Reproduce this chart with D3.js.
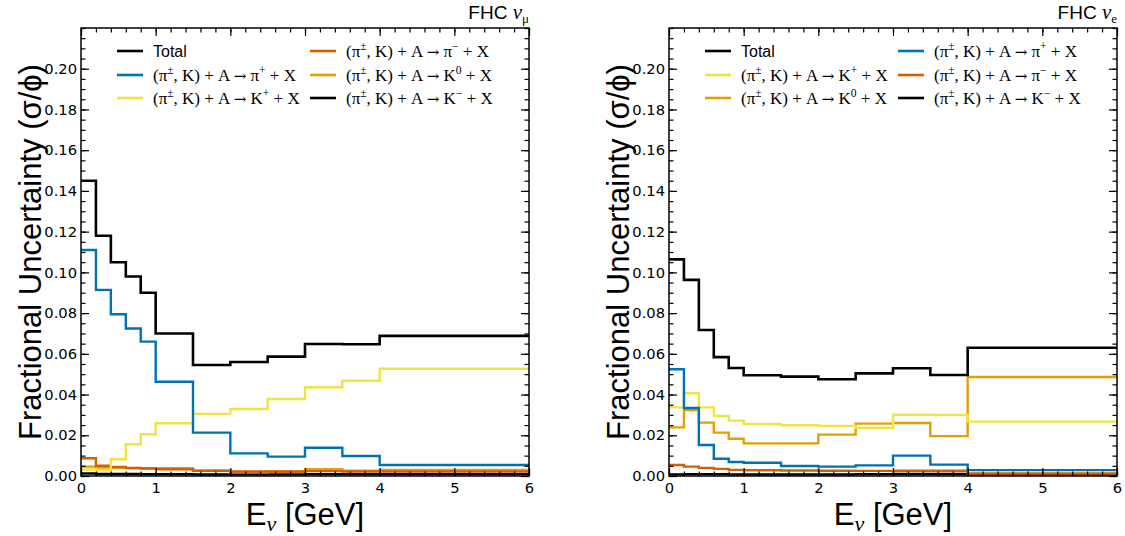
<!DOCTYPE html>
<html>
<head>
<meta charset="utf-8">
<script src="https://cdn.jsdelivr.net/npm/d3@7"></script>
<style>
  html, body { margin: 0; padding: 0; background: #fff; }
  svg { display: block; }
</style>
</head>
<body>
<svg id="chart" width="1125" height="536"></svg>
<script>
// Neutrino energy bin edges [GeV]
const binEdges = [0, 0.2, 0.4, 0.6, 0.8, 1.0, 1.5, 2.0, 2.5, 3.0, 3.5, 4.0, 6.0];

// FHC nu_mu fractional uncertainties per bin
const numuTotal   = [0.145, 0.118, 0.105, 0.098, 0.090, 0.070, 0.0545, 0.056, 0.0586, 0.0648, 0.0647, 0.0688];
const numuPiPlus  = [0.111, 0.0914, 0.0794, 0.0724, 0.066, 0.0463, 0.0213, 0.0111, 0.0095, 0.0139, 0.0098, 0.0054];
const numuKPlus   = [0.0032, 0.0028, 0.0082, 0.0156, 0.0205, 0.0259, 0.0305, 0.0329, 0.0378, 0.0436, 0.0468, 0.0527];
const numuPiMinus = [0.0087, 0.0050, 0.0045, 0.0040, 0.0037, 0.0033, 0.0026, 0.0022, 0.0022, 0.0024, 0.0022, 0.0022];
const numuK0      = [0.0046, 0.0042, 0.0040, 0.0038, 0.0038, 0.0038, 0.0026, 0.0018, 0.0021, 0.0034, 0.0026, 0.0030];
const numuKMinus  = [0.0012, 0.0010, 0.0010, 0.0010, 0.0009, 0.0009, 0.0008, 0.0008, 0.0008, 0.0009, 0.0009, 0.0009];

// FHC nu_e fractional uncertainties per bin
const nueTotal   = [0.1064, 0.0963, 0.0717, 0.0584, 0.053, 0.0495, 0.0488, 0.0475, 0.0504, 0.0529, 0.0496, 0.063];
const nuePiPlus  = [0.0524, 0.0334, 0.0152, 0.0085, 0.0069, 0.0065, 0.0049, 0.0046, 0.0052, 0.0100, 0.0056, 0.0029];
const nueKPlus   = [0.0337, 0.0406, 0.0337, 0.0295, 0.0272, 0.0255, 0.0249, 0.0246, 0.0236, 0.0301, 0.0300, 0.0267];
const nuePiMinus = [0.0054, 0.0046, 0.0040, 0.0035, 0.0030, 0.0028, 0.0027, 0.0026, 0.0025, 0.0026, 0.0026, 0.0012];
const nueK0      = [0.0239, 0.0324, 0.0262, 0.0213, 0.0183, 0.0160, 0.0160, 0.0203, 0.0257, 0.0260, 0.0196, 0.0486];
const nueKMinus  = [0.0008, 0.0009, 0.0009, 0.0009, 0.0008, 0.0008, 0.0008, 0.0008, 0.0009, 0.0010, 0.0010, 0.0008];

// Axis ticks
const xMajorTicks = [0, 1, 2, 3, 4, 5, 6];
const yMajorTicks = [0, 0.02, 0.04, 0.06, 0.08, 0.10, 0.12, 0.14, 0.16, 0.18, 0.20];

const COLORS = {
  total: "#000000",
  piPlus: "#0072b2",
  kPlus: "#f0e442",
  piMinus: "#d55e00",
  k0: "#e69f00",
  kMinus: "#000000"
};

// Legend labels: pieces of text, with superscripts and the arrow marked
const reaction = prod => [
  {t: "(π"}, {t: "±", sup: true}, {t: ", K) + A "}, {t: "→", arrow: true}, {t: " " + prod[0]},
  {t: prod[1], sup: true}, {t: " + X"}
];
const LABELS = {
  total: [{t: "Total", sans: true}],
  piPlus: reaction(["π", "+"]),
  kPlus: reaction(["K", "+"]),
  piMinus: reaction(["π", "−"]),
  k0: reaction(["K", "0"]),
  kMinus: reaction(["K", "−"])
};

const panels = [
  {
    left: 81, title: ["FHC ", "ν", "μ"],
    series: {total: numuTotal, piPlus: numuPiPlus, kPlus: numuKPlus, piMinus: numuPiMinus, k0: numuK0, kMinus: numuKMinus},
    legendCols: [["total", "piPlus", "kPlus"], ["piMinus", "k0", "kMinus"]]
  },
  {
    left: 669, title: ["FHC ", "ν", "e"],
    series: {total: nueTotal, piPlus: nuePiPlus, kPlus: nueKPlus, piMinus: nuePiMinus, k0: nueK0, kMinus: nueKMinus},
    legendCols: [["total", "kPlus", "k0"], ["piPlus", "piMinus", "kMinus"]]
  }
];

const SANS = "'Liberation Sans', Arial, Helvetica, sans-serif";
const SERIF = "'Liberation Serif', 'Times New Roman', serif";
const TICKFONT = "'DejaVu Sans', sans-serif";

const W = 448, H = 448, TOP = 28;
const svg = d3.select("#chart");

const drawOrder = ["kMinus", "k0", "piMinus", "kPlus", "piPlus", "total"];

panels.forEach(panel => {
  const g = svg.append("g").attr("transform", `translate(${panel.left},${TOP})`);
  const x = d3.scaleLinear().domain([0, 6]).range([0, W]);
  const y = d3.scaleLinear().domain([0, 0.22]).range([H, 0]);

  const clipId = "clip" + panel.left;
  g.append("clipPath").attr("id", clipId).append("rect").attr("width", W).attr("height", H);

  // step histograms
  const line = d3.line()
    .x(d => x(d[0]))
    .y(d => y(d[1]))
    .curve(d3.curveStepAfter);
  const plot = g.append("g").attr("clip-path", `url(#${clipId})`);
  drawOrder.forEach(key => {
    const vals = panel.series[key];
    const pts = binEdges.map((e, i) => [e, vals[Math.min(i, vals.length - 1)]]);
    plot.append("path")
      .attr("d", line(pts))
      .attr("fill", "none")
      .attr("stroke", COLORS[key])
      .attr("stroke-width", key === "total" ? 2.6 : 2.4)
      .attr("stroke-linejoin", "miter");
  });

  // ticks on all four sides, pointing inward
  const xMinor = d3.range(0, 6.0001, 0.2);
  const yMinor = d3.range(0, 0.2201, 0.005);
  const styleAxis = sel => {
    sel.select(".domain").remove();
    sel.selectAll(".tick line").attr("stroke", "#000").attr("stroke-width", 1.2);
    sel.selectAll("text").attr("font-family", TICKFONT).attr("font-size", 14.7).attr("fill", "#000");
  };
  g.append("g").attr("transform", `translate(0,${H})`)
    .call(d3.axisBottom(x).tickValues(xMinor).tickSize(-4.5).tickFormat("")).call(styleAxis);
  g.append("g").attr("transform", `translate(0,${H})`)
    .call(d3.axisBottom(x).tickValues(xMajorTicks).tickSize(-8).tickPadding(7).tickFormat(d3.format("d"))).call(styleAxis);
  g.append("g")
    .call(d3.axisTop(x).tickValues(xMinor).tickSize(-4.5).tickFormat("")).call(styleAxis);
  g.append("g")
    .call(d3.axisTop(x).tickValues(xMajorTicks).tickSize(-8).tickFormat("")).call(styleAxis);
  g.append("g")
    .call(d3.axisLeft(y).tickValues(yMinor).tickSize(-4.5).tickFormat("")).call(styleAxis);
  g.append("g")
    .call(d3.axisLeft(y).tickValues(yMajorTicks).tickSize(-8).tickPadding(4).tickFormat(d3.format(".2f"))).call(styleAxis);
  g.append("g").attr("transform", `translate(${W},0)`)
    .call(d3.axisRight(y).tickValues(yMinor).tickSize(-4.5).tickFormat("")).call(styleAxis);
  g.append("g").attr("transform", `translate(${W},0)`)
    .call(d3.axisRight(y).tickValues(yMajorTicks).tickSize(-8).tickFormat("")).call(styleAxis);

  // frame
  g.append("rect").attr("width", W).attr("height", H)
    .attr("fill", "none").attr("stroke", "#000").attr("stroke-width", 1.5);

  // axis titles
  g.append("text")
    .attr("transform", `translate(-40,${H / 2}) rotate(-90)`)
    .attr("text-anchor", "middle")
    .attr("font-family", SANS).attr("font-size", 31).attr("fill", "#000")
    .text("Fractional Uncertainty (σ/ϕ)");

  const xt = g.append("text")
    .attr("x", W / 2).attr("y", H + 49)
    .attr("text-anchor", "middle")
    .attr("font-family", SANS).attr("font-size", 31).attr("fill", "#000");
  xt.append("tspan").text("E");
  xt.append("tspan").text("ν").attr("font-family", SERIF).attr("font-style", "italic")
    .attr("font-size", 22).attr("dy", 6);
  xt.append("tspan").text(" [GeV]").attr("dy", -6);

  // panel title
  const tt = g.append("text")
    .attr("x", W).attr("y", -9)
    .attr("text-anchor", "end")
    .attr("font-family", SANS).attr("font-size", 19).attr("fill", "#000");
  tt.append("tspan").text(panel.title[0]);
  tt.append("tspan").text(panel.title[1]).attr("font-family", SERIF).attr("font-style", "italic").attr("font-size", 21);
  tt.append("tspan").text(panel.title[2]).attr("font-family", SERIF).attr("font-size", 13).attr("dy", 4);

  // legend
  const legend = g.append("g");
  const colX = [36, 229];
  const rowY = [23, 47, 70];
  panel.legendCols.forEach((col, ci) => {
    col.forEach((key, ri) => {
      const ly = rowY[ri];
      legend.append("line")
        .attr("x1", colX[ci]).attr("x2", colX[ci] + 26)
        .attr("y1", ly).attr("y2", ly)
        .attr("stroke", COLORS[key]).attr("stroke-width", 2.6);
      const txt = legend.append("text")
        .attr("x", colX[ci] + 36).attr("y", ly + 6)
        .attr("font-family", SERIF).attr("font-size", 17).attr("fill", "#000");
      const parts = LABELS[key];
      parts.forEach((p, pi) => {
        const ts = txt.append("tspan").text(p.t);
        if (p.sans) ts.attr("font-family", SANS).attr("font-size", 16);
        if (p.arrow) ts.attr("font-family", "'DejaVu Serif', serif").attr("font-size", 15);
        if (p.sup) ts.attr("dy", -7).attr("font-size", 11.5);
        else if (pi > 0 && parts[pi - 1].sup) ts.attr("dy", 7);
      });
    });
  });
});
</script>
</body>
</html>
